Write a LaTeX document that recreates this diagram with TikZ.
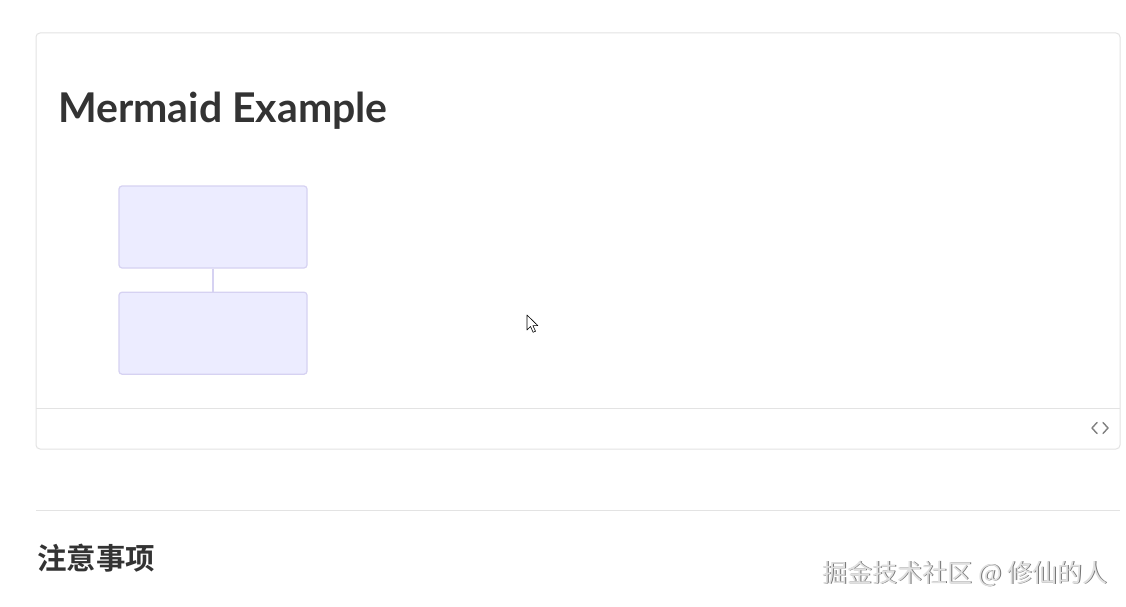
\documentclass[tikz,border=0pt]{standalone}
\usepackage{fontspec}
\usepackage{tikz}
\usetikzlibrary{positioning}
\newfontfamily\titlefont{Lato}
\newfontfamily\cjkfont{Noto Sans CJK SC}
\newfontfamily\cjkbold{Noto Sans CJK SC Bold}
\definecolor{cardline}{HTML}{E3E3E3}
\definecolor{mmfill}{HTML}{ECECFF}
\definecolor{mmline}{HTML}{D6D2F2}
\definecolor{textdark}{HTML}{333333}
\definecolor{icongray}{HTML}{808080}
\tikzset{
	mmbox/.style={draw=mmline, fill=mmfill, line width=1.2pt, rounded corners=3pt,
		minimum width=188pt, minimum height=82pt, inner sep=0pt},
	mmlink/.style={draw=mmline, line width=2pt},
	card/.style={draw=cardline, line width=1pt, rounded corners=4pt},
	chevron/.style={draw=icongray, line width=1.4pt, line cap=round, line join=round},
}

\begin{document}
\begin{tikzpicture}[x=1pt,y=-1pt]
		\useasboundingbox[fill=white] (0,0) rectangle (1126,607);
		% the card round the diagram
		\draw[card] (36,33) rectangle (1120,449);
		\draw[cardline, line width=1pt] (36,408) -- (1120,408);
		\node[anchor=base west, inner sep=0pt, text=textdark] (title) at (58,123)
			{\titlefont\bfseries\fontsize{41}{43}\selectfont Mermaid Example};
		% the two boxes
		\node[mmbox] (top) at (213,227) {};
		\node[mmbox, below=23pt of top] (bottom) {};
		\draw[mmlink] (top) -- (bottom);
		% code toggle
		\coordinate (code) at (1100,428);
		\draw[chevron] ([xshift=-3pt,yshift=5.5pt]code) -- ++(-5,5.5) -- ++(5,5.5);
		\draw[chevron] ([xshift=3pt,yshift=5.5pt]code) -- ++(5,5.5) -- ++(-5,5.5);
		% mouse pointer
		\draw[black, fill=white, line width=0.6pt, line join=round]
			(527,315) -- ++(0,15) -- ++(3.5,-3.5) -- ++(2.6,5.8) -- ++(2.4,-1.1)
			-- ++(-2.6,-5.6) -- ++(4.9,0) -- cycle;
		% lower part of the page
		\draw[cardline, line width=1pt] (36,510) -- (1120,510);
		\node[anchor=base west, inner sep=0pt, text=textdark] (notes) at (37,569)
			{\cjkbold\fontsize{29.5}{31}\selectfont 注意事项};
		\node[anchor=base east, inner sep=0pt, text=black!55] (markshadow) at (1108.8,582.8)
			{\cjkfont\fontsize{25}{27}\selectfont 掘金技术社区 @ 修仙的人};
		\node[anchor=base east, inner sep=0pt, text=black!12] (mark) at (1108,582)
			{\cjkfont\fontsize{25}{27}\selectfont 掘金技术社区 @ 修仙的人};
	\end{tikzpicture}
\end{document}
